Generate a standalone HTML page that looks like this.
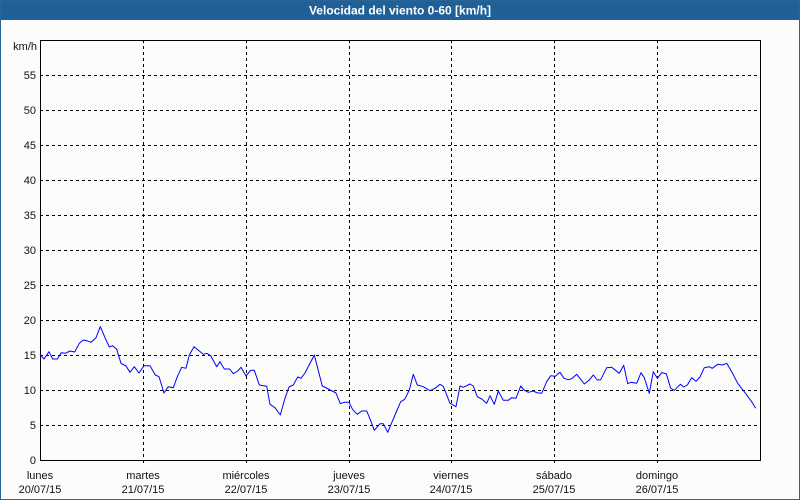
<!DOCTYPE html>
<html><head><meta charset="utf-8"><style>
html,body{margin:0;padding:0;background:#fff;}
body{width:800px;height:500px;overflow:hidden;}
svg{display:block;}
text{font-family:"Liberation Sans",Tahoma,sans-serif;}
</style></head><body>
<svg width="800" height="500" viewBox="0 0 800 500" xmlns="http://www.w3.org/2000/svg">
<rect x="0" y="0" width="800" height="500" fill="#fcfdfa"/>
<rect x="0" y="0" width="800" height="20" fill="#1f6096"/>
<rect x="0.5" y="0.5" width="799" height="499" fill="none" stroke="#2a6496" stroke-width="1"/>
<text x="400" y="14.5" fill="#ffffff" font-size="12" font-weight="bold" text-anchor="middle">Velocidad del viento 0-60 [km/h]</text>

<g stroke="#000" stroke-width="1" stroke-dasharray="3,3" shape-rendering="crispEdges" fill="none">
<line x1="40" y1="75.5" x2="760" y2="75.5"/>
<line x1="40" y1="110.5" x2="760" y2="110.5"/>
<line x1="40" y1="145.5" x2="760" y2="145.5"/>
<line x1="40" y1="180.5" x2="760" y2="180.5"/>
<line x1="40" y1="215.5" x2="760" y2="215.5"/>
<line x1="40" y1="250.5" x2="760" y2="250.5"/>
<line x1="40" y1="285.5" x2="760" y2="285.5"/>
<line x1="40" y1="320.5" x2="760" y2="320.5"/>
<line x1="40" y1="355.5" x2="760" y2="355.5"/>
<line x1="40" y1="390.5" x2="760" y2="390.5"/>
<line x1="40" y1="425.5" x2="760" y2="425.5"/>
<line x1="143.5" y1="40" x2="143.5" y2="466"/>
<line x1="246.5" y1="40" x2="246.5" y2="466"/>
<line x1="349.5" y1="40" x2="349.5" y2="466"/>
<line x1="451.5" y1="40" x2="451.5" y2="466"/>
<line x1="554.5" y1="40" x2="554.5" y2="466"/>
<line x1="657.5" y1="40" x2="657.5" y2="466"/>
</g>
<rect x="40.5" y="40.5" width="720" height="420" fill="none" stroke="#000" stroke-width="1" shape-rendering="crispEdges"/>

<polyline fill="none" stroke="#0000ff" stroke-width="1" stroke-linejoin="round" points="
40,354.3 44,359 49,351.7 52.7,359 57.3,359 61.3,352.7 65.3,353.3 70,351 74.7,352 79.3,343.3 83.3,340 86.7,340.7 91,342.3 96,337.7 100.3,326.7 105.3,338.3 109.3,347 112.7,345.7 116.7,349.3 121,363.3 126,366 130,372.3 134.3,366.7 139,373 144,365.7 150,365.7 155.3,375 159,376.7 164,393 168.3,386.7 173.3,387.7 177.3,376.7 181.7,367.3 186,368.3 189.3,355 194,346.7 203.3,354.3 206.7,353.3 210.7,355.7 216.7,366.7 220,361.7 224.3,369 229.7,369 233.3,373.7 237.7,371 241,367.3 246,376 250.7,370.3 254.3,370.3 259.3,385 266.7,386.3 270,404.3 275,407.7 280.3,415 285,398.3 289,387 293.3,385 297.7,377 301,378.3 305,373 314.3,355 322.3,386 328.3,389 336,393 340.3,403.7 344.3,402.3 349,402.3 352.7,409.7 357.3,414.3 361.7,411 366.7,411 370.3,419.7 374.3,430.3 380,423.7 383.3,423.7 387.7,432.3 395,415 400.7,401.7 404.7,399.3 409.3,390 413.3,374.3 417.3,385 423.3,386.7 430,390.7 435,388.3 440,384.3 443.3,386.3 450,403.3 456,406.7 460,386 463.3,387.3 470,384 473.3,386 477.3,396.7 481.7,399 486.7,403.3 490,395.7 494.3,404.3 498.3,391 503.3,400.3 508.3,400.3 511.7,397.7 516,398.3 520.7,386 524,390 528.3,392.3 533.3,391 536.7,392.7 541.7,393.3 546.7,381.7 550.7,375.7 555.3,376.3 560,372.3 564,378.3 568.3,379.7 571.7,378.7 576.7,374.3 584.3,384 589,380.3 593.3,375 597.3,380 600.7,379.7 606.7,367.7 611.7,367.3 619.3,373.3 623.7,365.3 627.7,383.7 630.7,382.3 636.7,383.3 641,372.7 644.3,377.7 649.3,393.3 653.3,371.7 657.3,378.3 661.7,372.7 666.3,373.7 670.7,388.3 674.3,390.3 680.3,384.3 683.7,387 687.3,385 691.7,377.7 696,381.3 700,377 704.3,367.7 709,366.7 712.3,368.3 717.7,364.3 722.3,365 726.7,363.3 731.7,371.7 737.7,383.3 745,392.7 751.7,401.7 755.7,408.3"/>

<g fill="#111" font-size="11" text-anchor="end">
<text x="37" y="50">km/h</text>
<text x="36" y="79">55</text>
<text x="36" y="114">50</text>
<text x="36" y="149">45</text>
<text x="36" y="184">40</text>
<text x="36" y="219">35</text>
<text x="36" y="254">30</text>
<text x="36" y="289">25</text>
<text x="36" y="324">20</text>
<text x="36" y="359">15</text>
<text x="36" y="394">10</text>
<text x="36" y="429">5</text>
<text x="36" y="464">0</text>
</g>
<g fill="#111" font-size="11" text-anchor="middle">
<text x="40" y="479">lunes</text><text x="40" y="493">20/07/15</text>
<text x="143" y="479">martes</text><text x="143" y="493">21/07/15</text>
<text x="246" y="479">miércoles</text><text x="246" y="493">22/07/15</text>
<text x="349" y="479">jueves</text><text x="349" y="493">23/07/15</text>
<text x="451" y="479">viernes</text><text x="451" y="493">24/07/15</text>
<text x="554" y="479">sábado</text><text x="554" y="493">25/07/15</text>
<text x="657" y="479">domingo</text><text x="657" y="493">26/07/15</text>
</g>
</svg>
</body></html>
